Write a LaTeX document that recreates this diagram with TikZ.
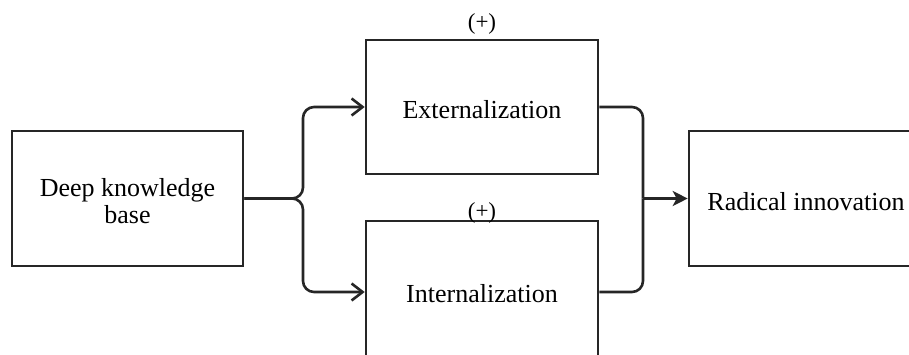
\documentclass[tikz,border=0pt]{standalone}
\usepackage{fontspec}
\setmainfont{Liberation Serif}
\usetikzlibrary{arrows.meta}
% set text a little below the geometric centre of its box
\newcommand\lowered[2][3pt]{\raisebox{-#1}[\height][\depth]{#2}}
\begin{document}
\begin{tikzpicture}[x=1pt,y=-1pt,
  box/.style={draw=black!85, line width=2.6pt, fill=white, inner sep=0pt,
    font=\fontsize{26}{27}\selectfont},
  sign/.style={inner sep=0pt, font=\fontsize{23}{24}\selectfont},
  link/.style={draw=black!85, line width=2.6pt, rounded corners=11pt},
  barb/.style={-{Straight Barb[length=11pt,width=17pt,line width=2.6pt]}},
  head/.style={-{Stealth[length=15pt,width=15pt,inset=4pt]}}]
\clip (0,0) rectangle (909,354);
\fill[white] (0,0) rectangle (909,354);

% boxes
\node[box, minimum width=231pt, minimum height=135pt] (dkb) at (127.5,198.5)
  {\lowered[6pt]{\begin{tabular}{@{}c@{}}Deep knowledge\\base\end{tabular}}};
\node[box, minimum width=232pt, minimum height=134pt] (ext) at (482,107)
  {\lowered{Externalization}};
\node[box, minimum width=232pt, minimum height=140pt] (int) at (482,291)
  {\lowered{Internalization}};
\node[box, minimum width=234pt, minimum height=135pt] (rad) at (806,198.5)
  {\lowered{Radical innovation}};

% signs of the effects
\node[sign] (plusE) at (482,24) {(+)};
\node[sign] (plusI) at (482,213) {(+)};

% split and join points
\coordinate (split) at (303,198.5);
\coordinate (join) at (643,198.5);

% deep knowledge base feeds both processes
\draw[link, barb] (dkb.east) -- (split) |- ([yshift=-1pt]int.west);
\draw[link, barb] (dkb.east) -- (split) |- (ext.west);

% both processes lead to radical innovation
\draw[link] (ext.east) -| (join);
\draw[link] ([yshift=-1pt]int.east) -| (join);
\draw[link, head, rounded corners=0pt] (join) -- (rad.west);
\end{tikzpicture}
\end{document}
